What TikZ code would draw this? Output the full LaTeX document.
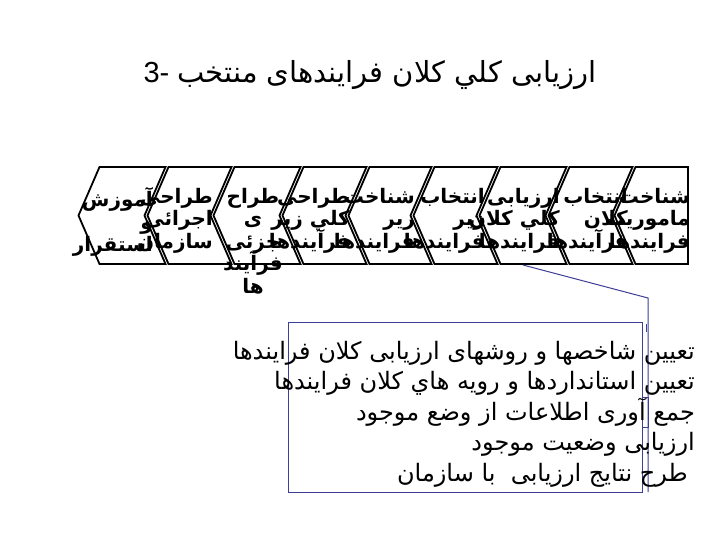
\documentclass[tikz,border=0pt]{standalone}
\usepackage{fontspec}
\setmainfont{Liberation Sans}
\newfontfamily\arab[Script=Arabic]{DejaVu Sans}
\TeXXeTstate=1
\definecolor{callout}{RGB}{62,62,150}
\newcommand\rl[1]{\beginR\strut #1\endR}
\newcommand\tightlines{\lineskiplimit=-100pt\relax\lineskip=0pt\relax}
\newcommand\chevfont{\arab\bfseries\fontsize{20}{22.5}\selectfont\tightlines}
\newcommand\boxfont{\arab\fontsize{24}{30.5}\selectfont\tightlines}
\newcommand\mychev[2]{\draw[chev] (#1+1.5,167) -- (#2-1.5,167) -- (#2-22.5,215.5) -- (#2-1.5,264) -- (#1+1.5,264) -- (#1-19.5,215.5) -- cycle;}
\begin{document}
\begin{tikzpicture}[x=1pt,y=-1pt]
\tikzset{
  chev/.style={draw=black,line width=1.8pt,line join=miter},
  ctext/.style={font=\chevfont,inner sep=0pt,anchor=north east,align=right},
  btext/.style={font=\boxfont,inner sep=0pt,anchor=north east,align=right},
  callline/.style={draw=callout,line width=1pt},
  titletext/.style={font=\fontsize{29}{34}\selectfont,inner sep=0pt}
}
\useasboundingbox[fill=white] (0,0) rectangle (720,540);
% title
\node[titletext] (title) at (370,75) {3- {\arab\beginR ارزیابی كلي كلان فرایندهای منتخب\endR}};
% chevrons (right to left)
\draw[chev] (635.5,167) -- (688,167) -- (688,264) -- (635.5,264) -- (614.5,215.5) -- cycle;
\mychev{568}{634}
\mychev{499}{568}
\mychev{433}{499}
\mychev{368}{433}
\mychev{302}{368}
\mychev{233}{302}
\mychev{167}{233}
\mychev{98}{167}
% chevron texts
\node[ctext] (c1) at (690,187.5) {\rl{شناخت}\\\rl{ماموريت}\\\rl{فرايندها}};
\node[ctext] (c2) at (628,187.5) {\rl{انتخاب}\\\rl{كلان}\\\rl{فرآيندها}};
\node[ctext] (c3) at (560,187.5) {\rl{ارزيابی}\\\rl{كلي كلان}\\\rl{فرايندها}};
\node[ctext] (c4) at (485,187.5) {\rl{انتخاب}\\\rl{زير}\\\rl{فرايندها}};
\node[ctext] (c5) at (415,187.5) {\rl{شناخت}\\\rl{زير}\\\rl{فرايندها}};
\node[ctext] (c6) at (350,187.5) {\rl{طراحی}\\\rl{كلي زير}\\\rl{فرآيندها}};
\node[ctext,anchor=north,align=center] (c7) at (253,187.5) {\rl{طراح}\\\rl{ی}\\\rl{جزئی}\\\rl{فرآیند}\\\rl{ها}};
\node[ctext] (c8) at (213,187.5) {\rl{طراحی}\\\rl{اجرائی}\\\rl{سازمان}};
\node[ctext] (c9) at (153,187.5) {\rl{آموزش}\\\rl{و}\\\rl{استقرار}};
% callout
\node[callline,minimum width=354pt,minimum height=170pt,anchor=north west,inner sep=0pt] (callbox) at (288,322) {};
\coordinate (leadA) at (523,265);
\coordinate (leadB) at (648,298);
\coordinate (leadC) at (648,492);
\draw[callline] (leadA) -- (leadB) -- (leadC);
\draw[callline] (642,397) rectangle (648,427);
\draw[callline] (646,324) -- (646,332);
% callout text
\node[btext] (btxt) at (695,337.5) {\rl{تعیین شاخصها و روشهای ارزیابی کلان فرایندها}\\\rl{تعیین استانداردها و رویه هاي کلان فرایندها}\\\rl{جمع آوری اطلاعات از وضع موجود}\\\rl{ارزیابی وضعیت موجود}\\\rl{\hspace{7pt}طرح نتایج ارزیابی\ \ با سازمان}};
\end{tikzpicture}
\end{document}
